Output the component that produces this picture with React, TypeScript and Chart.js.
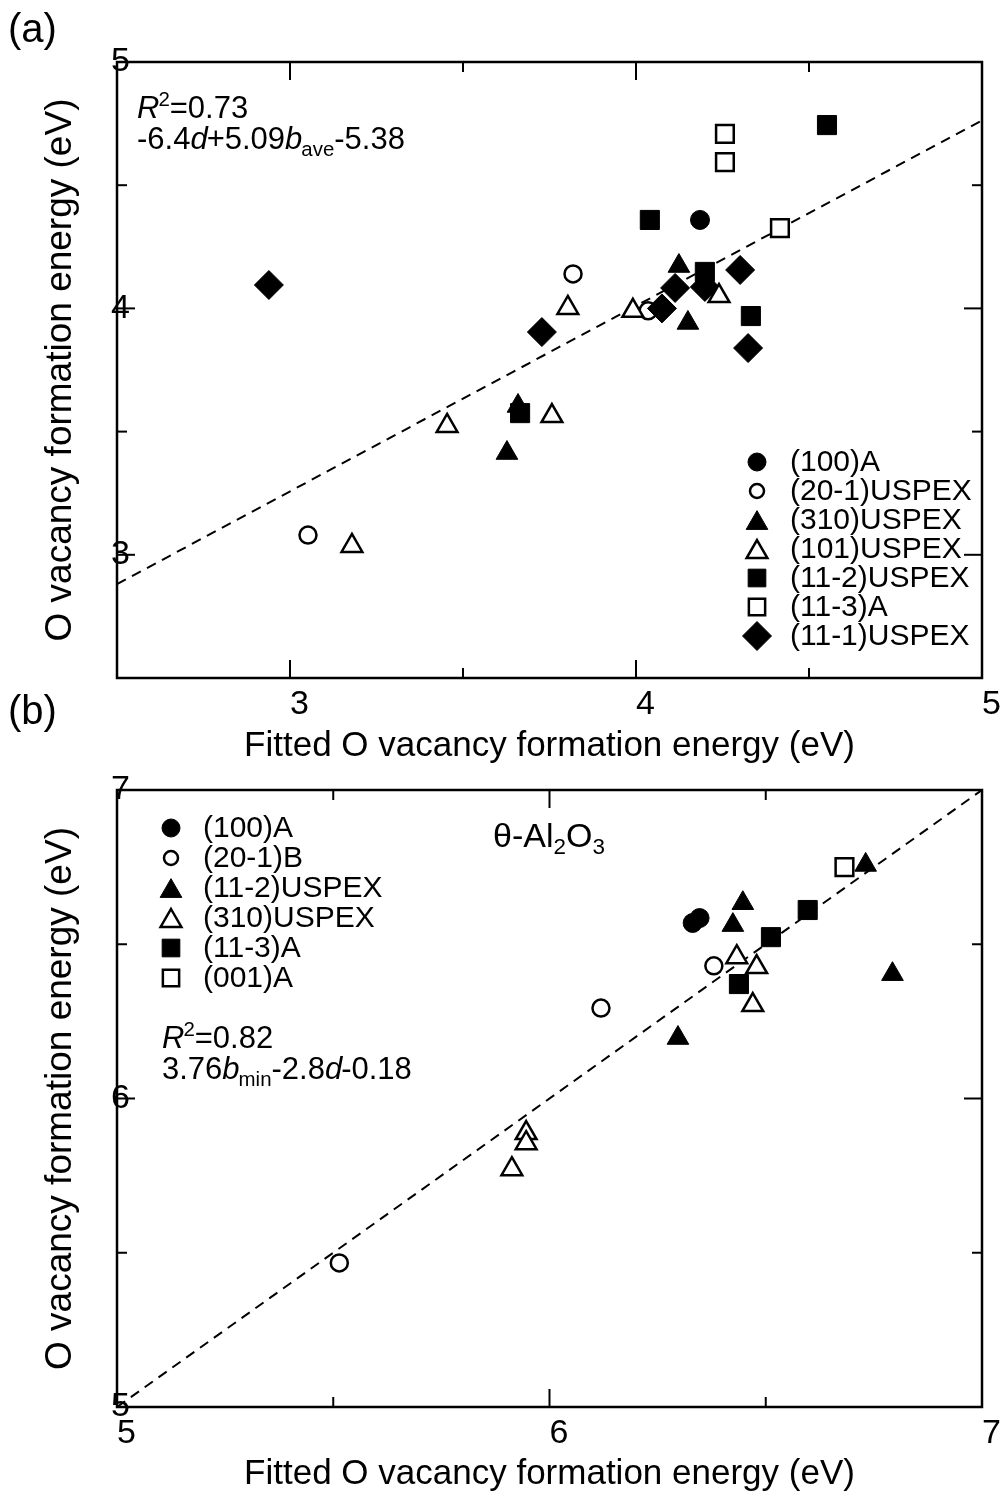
import React, { useEffect, useRef } from 'react';
import { Chart, registerables } from 'chart.js';

Chart.register(...registerables);

const FONT = '"Liberation Sans", Arial, Helvetica, sans-serif';

// ---------------- Panel (a) data ----------------
const aAxisX = { min: 2.5, max: 5, step: 0.5 };
const aAxisY = { min: 2.5, max: 5, step: 0.5 };
const a_100A = [[4.185, 4.359]];
const a_201USPEX = [[3.818, 4.14], [3.052, 3.08], [4.035, 3.99]];
const a_310USPEX = [[4.124, 4.172], [4.15, 3.941], [3.659, 3.604], [3.627, 3.413]];
const a_101USPEX = [[3.803, 4.002], [3.991, 3.99], [4.24, 4.05], [3.454, 3.523], [3.757, 3.563], [3.179, 3.036]];
const a_112USPEX = [[4.04, 4.359], [4.552, 4.744], [4.199, 4.148], [4.332, 3.969], [3.665, 3.575]];
const a_113A = [[4.257, 4.708], [4.257, 4.594], [4.416, 4.326]];
const a_111USPEX = [[2.939, 4.095], [3.728, 3.904], [4.301, 4.156], [4.324, 3.839], [4.075, 4.0], [4.113, 4.083], [4.199, 4.087]];
const a_fitLine = [[2.5, 2.881], [5, 4.763]];

// ---------------- Panel (b) data ----------------
const bAxisX = { min: 5, max: 7, step: 0.5 };
const bAxisY = { min: 5, max: 7, step: 0.5 };
const b_100A = [[6.331, 6.569], [6.347, 6.585]];
const b_201B = [[6.119, 6.293], [6.38, 6.43], [5.514, 5.467]];
const b_112USPEX = [[6.447, 6.633], [6.424, 6.562], [6.731, 6.757], [6.793, 6.403], [6.297, 6.196]];
const b_310USPEX = [[6.433, 6.458], [6.479, 6.426], [6.47, 6.303], [5.946, 5.888], [5.946, 5.855], [5.913, 5.771]];
const b_113A = [[6.597, 6.611], [6.512, 6.523], [6.438, 6.371]];
const b_001A = [[6.682, 6.75]];
const b_fitLine = [[5, 5], [7, 7]];

const X_TITLE = 'Fitted O vacancy formation energy (eV)';
const Y_TITLE = 'O vacancy formation energy (eV)';

type Seg = { t: string; it?: boolean; sup?: boolean; sub?: boolean };

const aNote1: Seg[] = [{ t: 'R', it: true }, { t: '2', sup: true }, { t: '=0.73' }];
const aNote2: Seg[] = [{ t: '-6.4' }, { t: 'd', it: true }, { t: '+5.09' }, { t: 'b', it: true }, { t: 'ave', sub: true }, { t: '-5.38' }];
const bNote1: Seg[] = [{ t: 'R', it: true }, { t: '2', sup: true }, { t: '=0.82' }];
const bNote2: Seg[] = [{ t: '3.76' }, { t: 'b', it: true }, { t: 'min', sub: true }, { t: '-2.8' }, { t: 'd', it: true }, { t: '-0.18' }];
const bMaterial: Seg[] = [{ t: 'θ-Al' }, { t: '2', sub: true }, { t: 'O' }, { t: '3', sub: true }];

// ---------------- symbols ----------------
const SYMBOLS: Record<string, { style: string; r: number; lr: number; fill: string; lw: number }> = {
  filledCircle: { style: 'circle', r: 9.5, lr: 9, fill: '#000', lw: 1 },
  openCircle: { style: 'circle', r: 8.5, lr: 7, fill: '#fff', lw: 2.5 },
  filledTri: { style: 'triangle', r: 12.5, lr: 12.5, fill: '#000', lw: 1 },
  openTri: { style: 'triangle', r: 12, lr: 12, fill: '#fff', lw: 2.5 },
  filledSquare: { style: 'rect', r: 13.5, lr: 12.5, fill: '#000', lw: 1 },
  openSquare: { style: 'rect', r: 12.5, lr: 11.5, fill: '#fff', lw: 2.5 },
  diamond: { style: 'rectRot', r: 14.5, lr: 14.5, fill: '#000', lw: 1 },
};

const toPts = (arr: number[][]) => arr.map(([x, y]) => ({ x, y }));

function series(label: string, pts: number[][], sym: string, order: number) {
  const s = SYMBOLS[sym];
  return {
    label,
    data: toPts(pts),
    pointStyle: s.style,
    pointRadius: s.r,
    pointHoverRadius: s.r,
    pointBackgroundColor: s.fill,
    pointBorderColor: '#000',
    pointBorderWidth: s.lw,
    showLine: false,
    order,
    legendRadius: s.lr,
    legendLw: s.lw,
    legendFill: s.fill,
  };
}

function fitSeries(pts: number[][]) {
  return {
    label: 'fit',
    data: toPts(pts),
    showLine: true,
    borderColor: '#000',
    borderWidth: 2,
    borderDash: [10, 7],
    pointRadius: 0,
    pointHoverRadius: 0,
    fill: false,
    order: 50,
    isFit: true,
  };
}

const isInt = (v: number) => Math.abs(v - Math.round(v)) < 1e-6;

function drawMarker(ctx: CanvasRenderingContext2D, style: string, x: number, y: number, r: number, fill: string, lw: number) {
  ctx.save();
  ctx.beginPath();
  if (style === 'circle') {
    ctx.arc(x, y, r, 0, Math.PI * 2);
  } else if (style === 'triangle') {
    ctx.moveTo(x, y - r);
    ctx.lineTo(x + 0.866 * r, y + 0.5 * r);
    ctx.lineTo(x - 0.866 * r, y + 0.5 * r);
    ctx.closePath();
  } else if (style === 'rect') {
    const s = r * Math.SQRT1_2;
    ctx.rect(x - s, y - s, 2 * s, 2 * s);
  } else if (style === 'rectRot') {
    ctx.moveTo(x - r, y);
    ctx.lineTo(x, y - r);
    ctx.lineTo(x + r, y);
    ctx.lineTo(x, y + r);
    ctx.closePath();
  }
  ctx.fillStyle = fill;
  ctx.fill();
  if (lw > 0) {
    ctx.lineWidth = lw;
    ctx.strokeStyle = '#000';
    ctx.stroke();
  }
  ctx.restore();
}

function drawRich(ctx: CanvasRenderingContext2D, segs: Seg[], x: number, y: number, size: number) {
  let cx = x;
  ctx.textBaseline = 'alphabetic';
  ctx.textAlign = 'left';
  ctx.fillStyle = '#000';
  for (const s of segs) {
    const small = s.sup || s.sub;
    const fs = small ? size * 0.66 : size;
    ctx.font = `${s.it ? 'italic ' : ''}${fs}px ${FONT}`;
    const dy = s.sup ? -size * 0.4 : s.sub ? size * 0.22 : 0;
    ctx.fillText(s.t, cx, y + dy);
    cx += ctx.measureText(s.t).width - (s.it && !small ? 1 : 0);
  }
}

const extrasPlugin = {
  id: 'extras',
  afterDraw(chart: any, _args: any, opts: any) {
    const ctx: CanvasRenderingContext2D = chart.ctx;
    const { left, right, top, bottom } = chart.chartArea;
    const xs = chart.scales.x;
    const ys = chart.scales.y;
    const oy = opts.offsetY || 0;
    ctx.save();
    ctx.strokeStyle = '#000';
    ctx.lineWidth = 2;
    const seg = (x1: number, y1: number, x2: number, y2: number) => {
      ctx.beginPath();
      ctx.moveTo(x1, y1);
      ctx.lineTo(x2, y2);
      ctx.stroke();
    };
    for (const t of xs.ticks) {
      const px = xs.getPixelForValue(t.value);
      if (px <= left + 2 || px >= right - 2) continue;
      const len = isInt(t.value) ? 18 : 10;
      seg(px, bottom, px, bottom - len);
      seg(px, top, px, top + len);
    }
    for (const t of ys.ticks) {
      const py = ys.getPixelForValue(t.value);
      if (py <= top + 2 || py >= bottom - 2) continue;
      const len = isInt(t.value) ? 18 : 10;
      seg(left, py, left + len, py);
      seg(right, py, right - len, py);
    }
    ctx.lineWidth = 2.5;
    ctx.strokeRect(left, top, right - left, bottom - top);

    // legend
    const lg = opts.legend;
    if (lg) {
      let i = 0;
      for (const ds of chart.data.datasets) {
        if (ds.isFit) continue;
        const y = lg.y0 - oy + i * lg.dy;
        const r = ds.legendRadius;
        const yy = ds.pointStyle === 'triangle' ? y + r * 0.25 : y;
        drawMarker(ctx, ds.pointStyle, lg.markerX, yy, r, ds.legendFill, ds.legendLw);
        ctx.font = `${lg.size}px ${FONT}`;
        ctx.fillStyle = '#000';
        ctx.textAlign = 'left';
        ctx.textBaseline = 'middle';
        ctx.fillText(ds.label, lg.textX, y + 1);
        i++;
      }
    }
    for (const n of opts.notes || []) {
      drawRich(ctx, n.segs, n.x, n.y - oy, n.size);
    }
    ctx.restore();
  },
};

function makeConfig(p: {
  datasets: any[];
  ax: { min: number; max: number; step: number };
  ay: { min: number; max: number; step: number };
  padTop: number;
  xScaleH: number;
  xTitlePadBottom: number;
  extras: any;
}) {
  return {
    type: 'scatter',
    data: { datasets: p.datasets },
    options: {
      animation: false,
      responsive: false,
      devicePixelRatio: 1,
      layout: { padding: { top: p.padTop, right: 21, left: 0, bottom: 0 } },
      events: [],
      plugins: {
        legend: { display: false },
        tooltip: { enabled: false },
        extras: p.extras,
      },
      scales: {
        x: {
          type: 'linear',
          position: 'bottom',
          min: p.ax.min,
          max: p.ax.max,
          grid: { display: false, drawTicks: false },
          border: { display: false },
          ticks: {
            stepSize: p.ax.step,
            autoSkip: false,
            maxRotation: 0,
            align: 'start',
            padding: 6,
            color: '#000',
            font: { family: FONT, size: 34 },
            callback: (v: number) => (isInt(v) ? String(Math.round(v)) : ''),
          },
          title: {
            display: true,
            text: X_TITLE,
            color: '#000',
            font: { family: FONT, size: 35 },
            padding: { top: 0, bottom: p.xTitlePadBottom },
          },
          afterFit: (s: any) => {
            s.height = p.xScaleH;
            s.paddingLeft = 0;
            s.paddingRight = 0;
          },
        },
        y: {
          type: 'linear',
          position: 'left',
          min: p.ay.min,
          max: p.ay.max,
          grid: { display: false, drawTicks: false },
          border: { display: false },
          ticks: {
            stepSize: p.ay.step,
            autoSkip: false,
            mirror: true,
            padding: -6,
            color: '#000',
            font: { family: FONT, size: 34 },
            callback: (v: number) => (isInt(v) ? String(Math.round(v)) : ''),
          },
          title: {
            display: true,
            text: Y_TITLE,
            color: '#000',
            font: { family: FONT, size: 37 },
            padding: { top: 39, bottom: 0 },
          },
          afterFit: (s: any) => {
            s.width = 117;
            s.paddingTop = 0;
            s.paddingBottom = 0;
          },
        },
      },
    },
    plugins: [extrasPlugin],
  };
}

const A_TOP = 0;
const A_H = 770;
const B_TOP = 770;
const B_H = 725;

function configA() {
  return makeConfig({
    datasets: [
      series('(100)A', a_100A, 'filledCircle', 6),
      series('(20-1)USPEX', a_201USPEX, 'openCircle', 7),
      series('(310)USPEX', a_310USPEX, 'filledTri', 3),
      series('(101)USPEX', a_101USPEX, 'openTri', 1),
      series('(11-2)USPEX', a_112USPEX, 'filledSquare', 4),
      series('(11-3)A', a_113A, 'openSquare', 5),
      series('(11-1)USPEX', a_111USPEX, 'diamond', 2),
      fitSeries(a_fitLine),
    ],
    ax: aAxisX,
    ay: aAxisY,
    padTop: 62,
    xScaleH: A_H - 678,
    xTitlePadBottom: 3,
    extras: {
      offsetY: A_TOP,
      legend: { markerX: 757, textX: 790, y0: 462, dy: 29, size: 30 },
      notes: [
        { segs: aNote1, x: 137, y: 118, size: 31 },
        { segs: aNote2, x: 137, y: 149, size: 31 },
      ],
    },
  });
}

function configB() {
  return makeConfig({
    datasets: [
      series('(100)A', b_100A, 'filledCircle', 6),
      series('(20-1)B', b_201B, 'openCircle', 7),
      series('(11-2)USPEX', b_112USPEX, 'filledTri', 2),
      series('(310)USPEX', b_310USPEX, 'openTri', 1),
      series('(11-3)A', b_113A, 'filledSquare', 4),
      series('(001)A', b_001A, 'openSquare', 5),
      fitSeries(b_fitLine),
    ],
    ax: bAxisX,
    ay: bAxisY,
    padTop: 790 - B_TOP,
    xScaleH: B_TOP + B_H - 1407,
    xTitlePadBottom: 0,
    extras: {
      offsetY: B_TOP,
      legend: { markerX: 171, textX: 203, y0: 828, dy: 30, size: 30 },
      notes: [
        { segs: bMaterial, x: 493, y: 847, size: 34 },
        { segs: bNote1, x: 162, y: 1048, size: 31 },
        { segs: bNote2, x: 162, y: 1079, size: 31 },
      ],
    },
  });
}

function Panel({ make, top, height }: { make: () => any; top: number; height: number }) {
  const ref = useRef<HTMLCanvasElement>(null);
  useEffect(() => {
    if (!ref.current) return;
    const chart = new Chart(ref.current, make());
    return () => chart.destroy();
  }, []);
  return (
    <canvas
      ref={ref}
      width={1003}
      height={height}
      style={{ position: 'absolute', left: 0, top, width: 1003, height, display: 'block' }}
    />
  );
}

export default function App() {
  const labelStyle = (top: number): React.CSSProperties => ({
    position: 'absolute',
    left: 8,
    top,
    fontFamily: FONT,
    fontSize: 40,
    lineHeight: '40px',
    color: '#000',
  });
  return (
    <div style={{ position: 'absolute', left: 0, top: 0, width: 1003, height: 1495, background: '#fff' }}>
      <Panel make={configA} top={A_TOP} height={A_H} />
      <Panel make={configB} top={B_TOP} height={B_H} />
      <div style={labelStyle(8)}>(a)</div>
      <div style={labelStyle(690)}>(b)</div>
    </div>
  );
}
